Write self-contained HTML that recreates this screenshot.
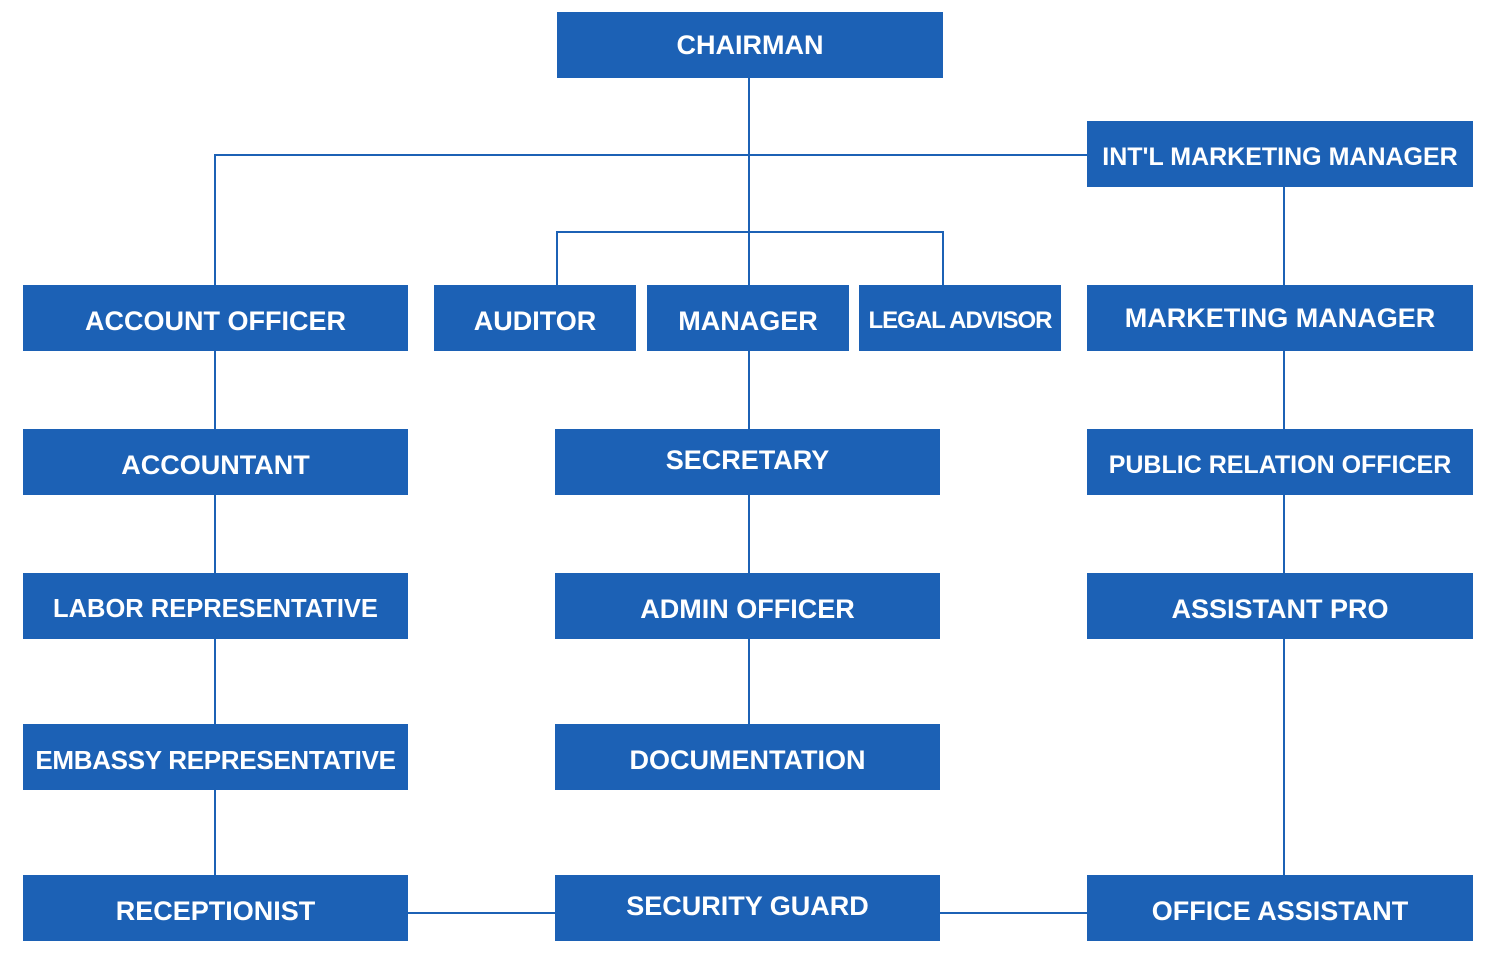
<!DOCTYPE html>
<html><head><style>
body{margin:0;width:1493px;height:972px;background:#fff;position:relative;overflow:hidden;font-family:"Liberation Sans",Arial,sans-serif}
.b{position:absolute;background:#1c61b5;color:#fff;font-weight:bold;font-size:26px;display:flex;align-items:center;justify-content:center;white-space:nowrap;height:66px}
.l{position:absolute;background:#1c61b5}
</style></head><body>
<div class="l" style="left:748px;top:78px;width:2px;height:207px"></div>
<div class="l" style="left:215px;top:154px;width:872px;height:2px"></div>
<div class="l" style="left:556px;top:231px;width:388px;height:2px"></div>
<div class="l" style="left:556px;top:231px;width:2px;height:54px"></div>
<div class="l" style="left:942px;top:231px;width:2px;height:54px"></div>
<div class="l" style="left:214px;top:154px;width:2px;height:721px"></div>
<div class="l" style="left:1283px;top:187px;width:2px;height:688px"></div>
<div class="l" style="left:748px;top:351px;width:2px;height:373px"></div>
<div class="l" style="left:408px;top:912px;width:147px;height:2px"></div>
<div class="l" style="left:940px;top:912px;width:147px;height:2px"></div>

<div class="b" style="left:557px;top:12px;width:386px;font-size:27px">CHAIRMAN</div>
<div class="b" style="left:1087px;top:121px;width:386px;font-size:25px;padding-top:6px;height:60px">INT'L MARKETING MANAGER</div>
<div class="b" style="left:23px;top:285px;width:385px;padding-top:6px;height:60px;font-size:27px">ACCOUNT OFFICER</div>
<div class="b" style="left:434px;top:285px;width:202px;padding-top:6px;height:60px;font-size:27px">AUDITOR</div>
<div class="b" style="left:647px;top:285px;width:202px;padding-top:6px;height:60px;font-size:27px">MANAGER</div>
<div class="b" style="left:859px;top:285px;width:202px;padding-top:6px;height:60px;font-size:24px;letter-spacing:-1px">LEGAL ADVISOR</div>
<div class="b" style="left:1087px;top:285px;width:386px;font-size:27px">MARKETING MANAGER</div>
<div class="b" style="left:23px;top:429px;width:385px;padding-top:6px;height:60px;font-size:27px">ACCOUNTANT</div>
<div class="b" style="left:555px;top:429px;width:385px;padding-bottom:4px;height:62px;font-size:27px">SECRETARY</div>
<div class="b" style="left:1087px;top:429px;width:386px;padding-top:6px;height:60px;font-size:25px">PUBLIC RELATION OFFICER</div>
<div class="b" style="left:23px;top:573px;width:385px;padding-top:6px;height:60px;font-size:25.5px">LABOR REPRESENTATIVE</div>
<div class="b" style="left:555px;top:573px;width:385px;padding-top:6px;height:60px;font-size:27px">ADMIN OFFICER</div>
<div class="b" style="left:1087px;top:573px;width:386px;padding-top:6px;height:60px;font-size:27px">ASSISTANT PRO</div>
<div class="b" style="left:23px;top:724px;width:385px;padding-top:6px;height:60px;font-size:26px;letter-spacing:-0.3px">EMBASSY REPRESENTATIVE</div>
<div class="b" style="left:555px;top:724px;width:385px;padding-top:6px;height:60px;font-size:27px">DOCUMENTATION</div>
<div class="b" style="left:23px;top:875px;width:385px;padding-top:6px;height:60px;font-size:27px">RECEPTIONIST</div>
<div class="b" style="left:555px;top:875px;width:385px;padding-bottom:4px;height:62px;font-size:27px">SECURITY GUARD</div>
<div class="b" style="left:1087px;top:875px;width:386px;padding-top:6px;height:60px;font-size:27px">OFFICE ASSISTANT</div>
</body></html>
